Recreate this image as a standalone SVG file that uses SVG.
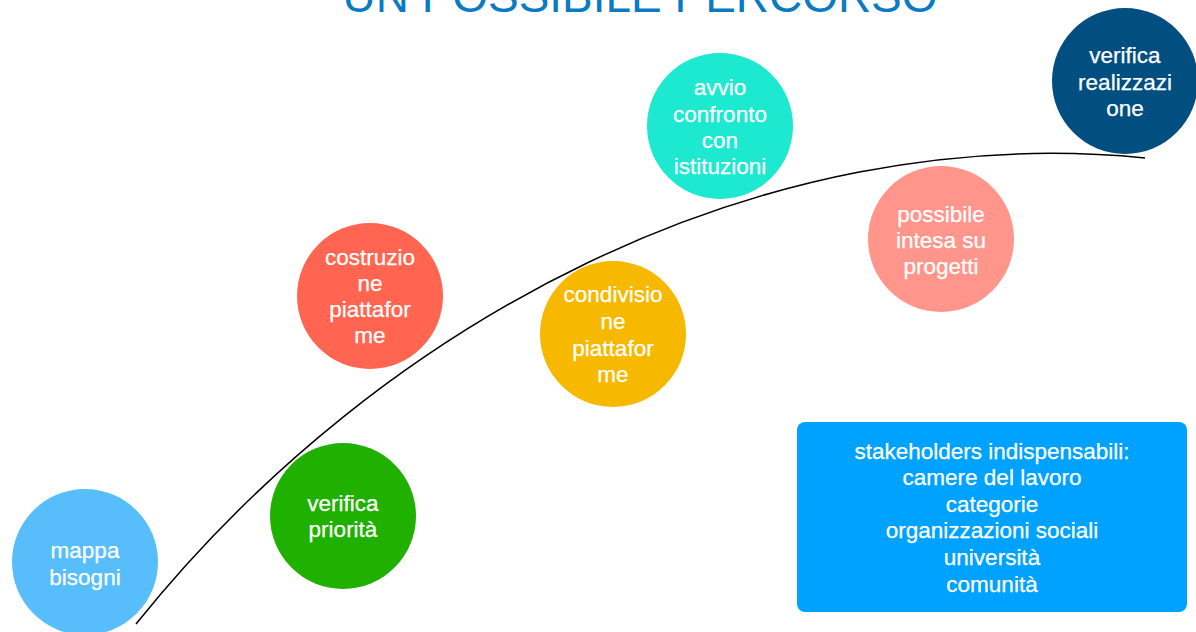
<svg xmlns="http://www.w3.org/2000/svg" width="1196" height="632" viewBox="0 0 1196 632">
<style>
text{font-family:"Liberation Sans",Arial,Helvetica,sans-serif}
.t{fill:#fff;font-size:22.5px;text-anchor:middle;stroke:#fff;stroke-width:0.25}
.title{fill:#0a7bc2;font-size:46px;text-anchor:middle}
.curve{fill:none;stroke:#000;stroke-width:1.5}
</style>
<rect width="1196" height="632" fill="#fff"/>
<text class="title" x="640" y="12" textLength="595" lengthAdjust="spacingAndGlyphs">UN POSSIBILE PERCORSO</text>
<g id="connectors">
<path class="curve" d="M136,624 C380,320 760,120 1145,158"/>
</g>
<g id="n1"><circle cx="85" cy="562" r="73" fill="#57befb"/>
<text class="t" x="85" y="558">mappa</text><text class="t" x="85" y="585">bisogni</text></g>
<g id="n2"><circle cx="343" cy="516" r="73" fill="#20b000"/>
<text class="t" x="343" y="511">verifica</text><text class="t" x="343" y="537">priorità</text></g>
<g id="n3"><circle cx="370" cy="296" r="73" fill="#ff6551"/>
<text class="t" x="370" y="265">costruzio</text><text class="t" x="370" y="291">ne</text><text class="t" x="370" y="317">piattafor</text><text class="t" x="370" y="343">me</text></g>
<g id="n4"><circle cx="613" cy="334" r="73" fill="#f7b800"/>
<text class="t" x="613" y="302">condivisio</text><text class="t" x="613" y="329">ne</text><text class="t" x="613" y="356">piattafor</text><text class="t" x="613" y="382">me</text></g>
<g id="n5"><circle cx="720" cy="126" r="73" fill="#1de8d0"/>
<text class="t" x="720" y="95">avvio</text><text class="t" x="720" y="122">confronto</text><text class="t" x="720" y="148">con</text><text class="t" x="720" y="174">istituzioni</text></g>
<g id="n6"><circle cx="941" cy="239" r="73" fill="#ff958b"/>
<text class="t" x="941" y="222">possibile</text><text class="t" x="941" y="248">intesa su</text><text class="t" x="941" y="274">progetti</text></g>
<g id="n7"><circle cx="1125" cy="81" r="73" fill="#004f80"/>
<text class="t" x="1125" y="63">verifica</text><text class="t" x="1125" y="90">realizzazi</text><text class="t" x="1125" y="116">one</text></g>
<g id="box"><rect x="797" y="422" width="390" height="190" rx="8" fill="#00a2ff"/>
<text class="t" x="992" y="459">stakeholders indispensabili:</text>
<text class="t" x="992" y="485">camere del lavoro</text>
<text class="t" x="992" y="512">categorie</text>
<text class="t" x="992" y="538">organizzazioni sociali</text>
<text class="t" x="992" y="565">università</text>
<text class="t" x="992" y="592">comunità</text></g>
</svg>
